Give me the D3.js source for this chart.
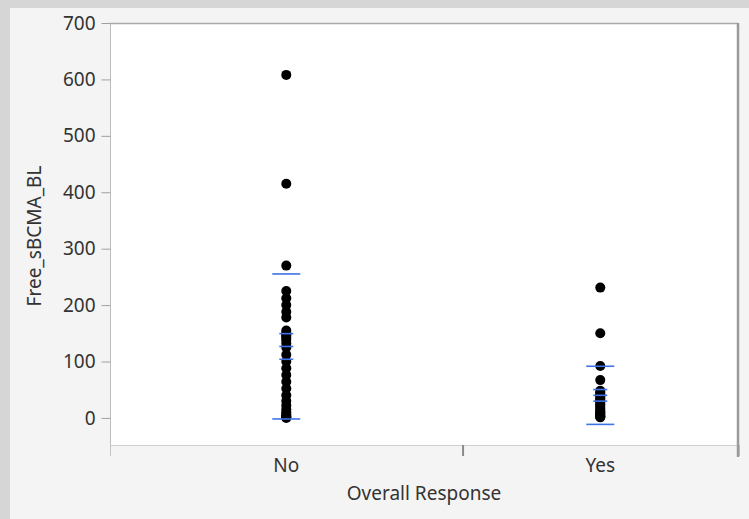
<!DOCTYPE html>
<html>
<head>
<meta charset="utf-8">
<script src="https://cdn.jsdelivr.net/npm/d3@7"></script>
<style>
  html, body { margin: 0; padding: 0; background: #f4f4f4; }
  svg { display: block; }
  text { font-family: "Noto Sans", "Open Sans", sans-serif; fill: #333; }
</style>
</head>
<body>
<svg id="chart" width="749" height="519"></svg>
<script>
// Overall response groups
const categories = ["No", "Yes"];

// Baseline free sBCMA values per response group
const valuesNo = [608, 415, 270, 225, 212, 200, 188, 178,
  155, 150, 148, 145, 142, 138, 132, 125,
  112, 100, 88, 76, 64, 52, 40, 30,
  22, 15, 10, 6, 4, 2, 1, 0];
const valuesYes = [231, 150, 92, 67,
  48, 45, 42, 40, 38, 35, 32, 30, 27, 24, 21,
  18, 15, 12, 10, 8, 6, 4, 3, 2, 1];

const yTicks = [0, 100, 200, 300, 400, 500, 600, 700];
const yTitle = "Free_sBCMA_BL";
const xTitle = "Overall Response";

const groups = [
  { name: categories[0], values: valuesNo },
  { name: categories[1], values: valuesYes }
];

const W = 749, H = 519;
const plot = { left: 110, right: 738, top: 23, bottom: 445 };

const svg = d3.select("#chart");

// outer window chrome
svg.append("rect").attr("x", 0).attr("y", 0).attr("width", W).attr("height", H).attr("fill", "#f4f4f4");
svg.append("rect").attr("x", 0).attr("y", 0).attr("width", W).attr("height", 8).attr("fill", "#d6d6d6");
svg.append("rect").attr("x", 0).attr("y", 0).attr("width", 10).attr("height", H).attr("fill", "#d6d6d6");

// x axis is proportional to group size
const total = d3.sum(groups, g => g.values.length);
let acc = 0;
groups.forEach(g => { g.start = acc; acc += g.values.length; g.end = acc; g.mid = (g.start + g.end) / 2; });

const x = d3.scaleLinear().domain([0, total]).range([plot.left, plot.right]);
const y = d3.scaleLinear().domain([-48, 700]).range([plot.bottom, plot.top]);

// plot background
svg.append("rect")
  .attr("x", plot.left).attr("y", plot.top)
  .attr("width", plot.right - plot.left).attr("height", plot.bottom - plot.top)
  .attr("fill", "#ffffff");

// frame
svg.append("line").attr("x1", plot.left).attr("x2", plot.right)
  .attr("y1", plot.top + 0.5).attr("y2", plot.top + 0.5)
  .attr("stroke", "#a8a8a8").attr("stroke-width", 1.5);
svg.append("line").attr("x1", plot.left).attr("x2", plot.right)
  .attr("y1", plot.bottom + 0.5).attr("y2", plot.bottom + 0.5)
  .attr("stroke", "#cfcfcf").attr("stroke-width", 1);

// y axis
const yAxis = d3.axisLeft(y).tickValues(yTicks).tickSize(9).tickPadding(6);
const gy = svg.append("g").attr("transform", `translate(${plot.left + 0.5},0)`).call(yAxis);
gy.select(".domain").attr("stroke", "#bdbdbd").attr("d", `M0,${plot.top}V${plot.bottom + 10}`);
gy.selectAll(".tick line").attr("stroke", "#a0a0a0");
gy.selectAll(".tick text").style("font-size", "19px").attr("fill", "#333").attr("font-family", null);

// x axis: boundaries between groups
const boundaries = [0].concat(groups.map(g => g.end));
const xAxis = d3.axisBottom(x).tickValues(boundaries).tickSize(11).tickFormat("");
const gx = svg.append("g").attr("transform", `translate(0,${plot.bottom})`).call(xAxis);
gx.select(".domain").remove();
gx.selectAll(".tick line")
  .attr("stroke", (d, i) => i === 0 ? "#c4c4c4" : "#8a8a8a")
  .attr("stroke-width", (d, i) => i === 0 ? 1 : 2);

// right frame edge
svg.append("line").attr("x1", x(total)).attr("x2", x(total))
  .attr("y1", plot.top).attr("y2", plot.bottom + 12)
  .attr("stroke", "#9a9a9a").attr("stroke-width", 2.5);

// group labels
svg.selectAll("text.grp").data(groups).join("text")
  .attr("class", "grp")
  .attr("x", d => x(d.mid)).attr("y", 472)
  .attr("text-anchor", "middle")
  .style("font-size", "19px")
  .text(d => d.name);

// axis titles
svg.append("text")
  .attr("x", (plot.left + plot.right) / 2).attr("y", 500)
  .attr("text-anchor", "middle").style("font-size", "19px")
  .text(xTitle);
svg.append("text")
  .attr("transform", `translate(41,${236}) rotate(-90)`)
  .attr("text-anchor", "middle").style("font-size", "19px")
  .text(yTitle);

// mean, standard error and standard deviation lines
const stats = groups.map(g => {
  const m = d3.mean(g.values), sd = d3.deviation(g.values), se = sd / Math.sqrt(g.values.length);
  return { g, m, sd, se };
});
const statLines = [];
stats.forEach(s => {
  statLines.push({ g: s.g, v: s.m + s.sd, half: 14 });
  statLines.push({ g: s.g, v: s.m - s.sd, half: 14 });
  statLines.push({ g: s.g, v: s.m + s.se, half: 7 });
  statLines.push({ g: s.g, v: s.m, half: 7 });
  statLines.push({ g: s.g, v: s.m - s.se, half: 7 });
});

// points
const pts = groups.flatMap(g => g.values.map(v => ({ g, v })));
svg.append("g").selectAll("circle").data(pts).join("circle")
  .attr("cx", d => x(d.g.mid))
  .attr("cy", d => y(d.v))
  .attr("r", 5)
  .attr("fill", "#000");

svg.append("g").selectAll("line").data(statLines).join("line")
  .attr("x1", d => x(d.g.mid) - d.half)
  .attr("x2", d => x(d.g.mid) + d.half)
  .attr("y1", d => y(d.v)).attr("y2", d => y(d.v))
  .attr("stroke", "#3f72e6").attr("stroke-width", 1.6);
</script>
</body>
</html>
